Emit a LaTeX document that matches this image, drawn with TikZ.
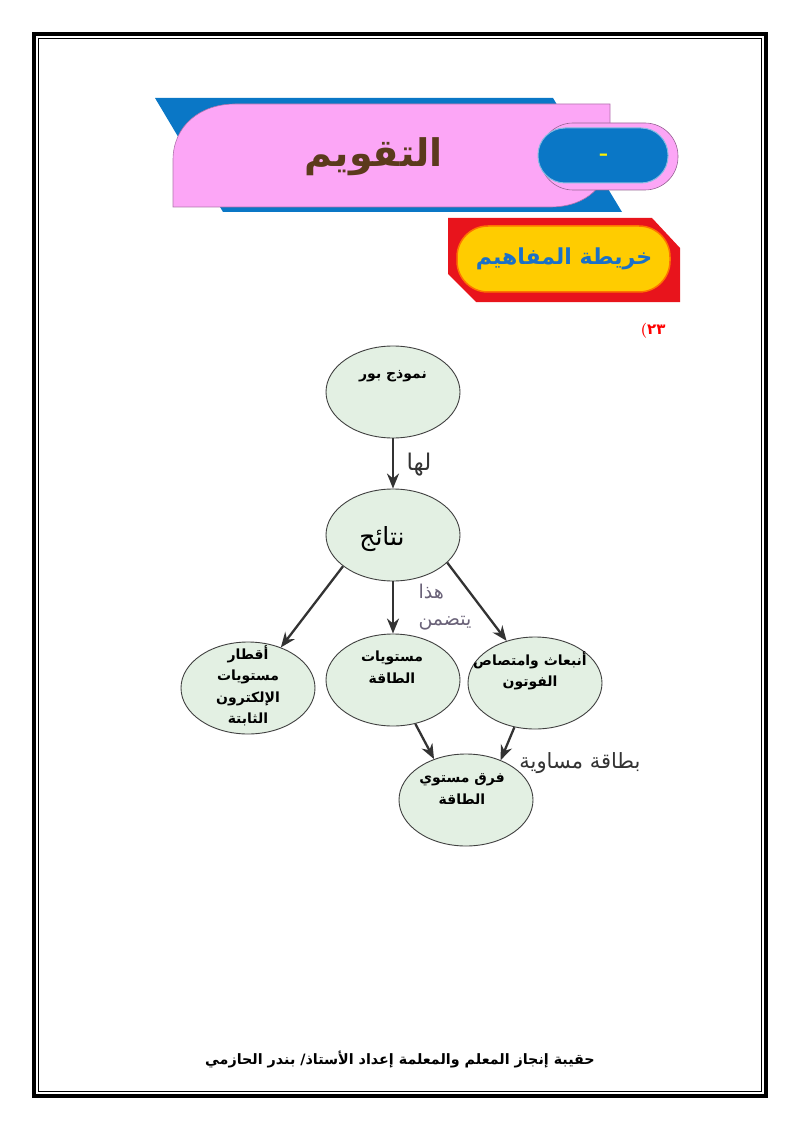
\documentclass[tikz,border=0pt]{standalone}
\usepackage{fontspec}
\usepackage{xcolor}
\usepackage{tikz}
\usetikzlibrary{positioning,arrows.meta,shapes.geometric}
\newfontfamily\arabicfont[Script=Arabic]{DejaVu Sans}
\TeXXeTstate=1
\newcommand{\ar}[1]{{\arabicfont\beginR #1\endR}}
\definecolor{bubblefill}{HTML}{E3F0E3}
\definecolor{bannerblue}{HTML}{0A77C6}
\definecolor{bannerpink}{HTML}{FCA6F6}
\definecolor{bannerred}{HTML}{E8141C}
\definecolor{banneryellow}{HTML}{FFCC00}
\definecolor{titlebrown}{HTML}{5B3A1C}
\definecolor{mapblue}{HTML}{1A70C8}
\definecolor{notegray}{HTML}{6A6278}

\begin{document}
\begin{tikzpicture}[x=1pt,y=-1pt,
  bubble/.style={ellipse,draw=black!75,line width=0.9pt,fill=bubblefill,
    minimum width=134pt,minimum height=92pt,inner sep=0pt},
  txt/.style={font=\bfseries\fontsize{14}{21.5}\selectfont,align=center,inner sep=0pt},
  note/.style={font=\fontsize{21}{27}\selectfont,inner sep=0pt},
  link/.style={draw=black!80,line width=2.3pt,-{Stealth[length=15pt,width=12pt]}}]
  \useasboundingbox (0,0) rectangle (800,1131);
  % page frame
  \draw[line width=4pt] (34,34) rectangle (766,1096);
  \draw[line width=0.8pt] (38.5,38.5) rectangle (761.5,1091.5);
  % title banner
  \fill[bannerblue] (155,98) -- (553,98) -- (622,212) -- (223,212) -- cycle;
  \filldraw[fill=bannerpink,draw=bannerpink!70!black,line width=0.6pt]
    (173,207) -- (173,160) .. controls (173,126) and (200,104) .. (235,104)
    -- (610,104) -- (610,150) .. controls (610,186) and (586,207) .. (550,207) -- cycle;
  \filldraw[fill=bannerpink,draw=bannerpink!60!black,line width=0.6pt,rounded corners=33pt]
    (540,123) rectangle (678,190);
  \filldraw[fill=bannerblue,draw=bannerblue!50!white,line width=1pt,rounded corners=27pt]
    (538,128) rectangle (668,183);
  \node[text=yellow,font=\bfseries\fontsize{24}{24}\selectfont] (dash) at (604,157) {-};
  \node[text=titlebrown,font=\bfseries\fontsize{38}{38}\selectfont] (title) at (374,157) {\ar{التقويم}};
  % concept map banner
  \fill[bannerred] (448,218) -- (652,218) -- (680,248) -- (680,302) -- (476,302) -- (448,274) -- cycle;
  \filldraw[fill=banneryellow,draw=orange!90!red,line width=1.5pt,rounded corners=31pt]
    (457,226) rectangle (670,292);
  \node[text=mapblue,font=\bfseries\fontsize{22}{22}\selectfont] (maptitle) at (564,259) {\ar{خريطة المفاهيم}};
  \node[text=red,font=\bfseries\fontsize{15}{15}\selectfont] (page) at (653,331) {(\arabicfont ٢٣};
  % concept map
  \node[bubble] (bohr) at (393,392) {};
  \node[bubble] (results) at (393,535) {};
  \node[bubble] (radii) at (248,688) {};
  \node[bubble] (levels) at (393,680) {};
  \node[bubble] (photon) at (535,683) {};
  \node[bubble] (diff) at (466,800) {};
  \node[txt] (bohrtxt) at (393,376) {\ar{نموذج بور}};
  \node[note,font=\fontsize{25}{25}\selectfont] (resultstxt) at (382,539) {\ar{نتائج}};
  \node[txt] (radiitxt) at (248,686) {\ar{أقطار}\\\ar{مستويات}\\\ar{الإلكترون}\\\ar{الثابتة}};
  \node[txt] (levelstxt) at (392,667) {\ar{مستويات}\\\ar{الطاقة}};
  \node[txt] (photontxt) at (530,671) {\ar{أنبعاث وامتصاص}\\\ar{الفوتون}};
  \node[txt] (difftxt) at (462,789) {\ar{فرق مستوي}\\\ar{الطاقة}};
  \draw[link] (bohr.south) -- (results.north);
  \draw[link] (results.212) -- (radii.51);
  \draw[link] (results.south) -- (levels.north);
  \draw[link] (results.-27) -- (photon.124);
  \draw[link] (levels.-63) -- (diff.128);
  \draw[link] (photon.-115) -- (diff.49);
  \node[note,text=black!80,font=\fontsize{23}{23}\selectfont] (has) at (419,465) {\ar{لها}};
  \node[note,text=notegray,align=left,font=\fontsize{19}{27}\selectfont] (contains) at (445,607) {\ar{هذا}\\\ar{يتضمن}};
  \node[note,text=black!80] (equal) at (580,763) {\ar{بطاقة مساوية}};
  % footer
  \node[font=\bfseries\fontsize{14.3}{15}\selectfont] (footer) at (400,1059)
    {\ar{حقيبة إنجاز المعلم والمعلمة إعداد الأستاذ/ بندر الحازمي}};
\end{tikzpicture}
\end{document}
